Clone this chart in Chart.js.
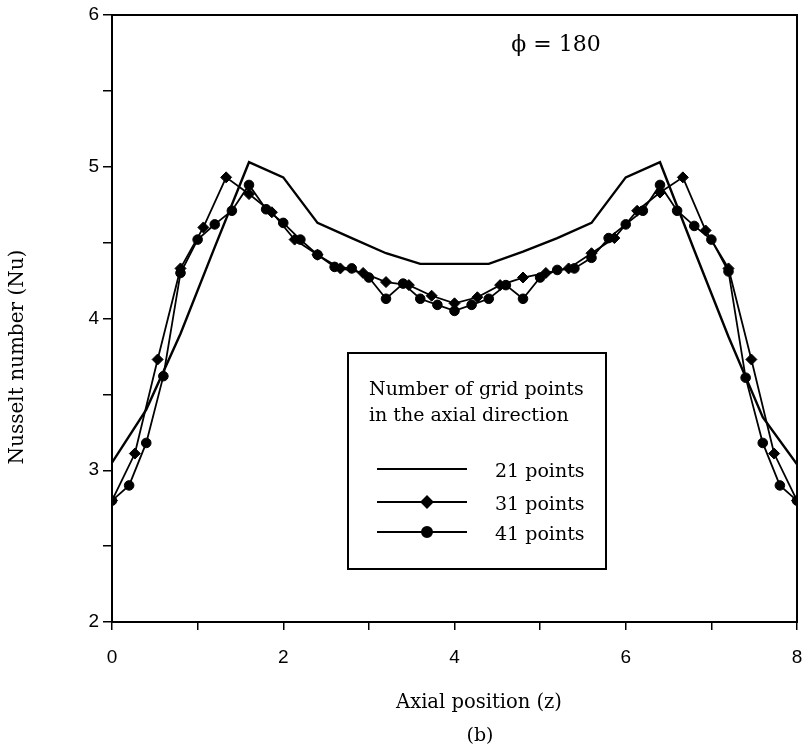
<!DOCTYPE html>
<html><head><meta charset="utf-8">
<script src="https://cdn.jsdelivr.net/npm/chart.js@4/dist/chart.umd.min.js"></script>
<style>html,body{margin:0;padding:0;background:#fff;} #wrap{width:804px;height:744px;position:relative;}</style>
</head><body><div id="wrap"><canvas id="c" width="804" height="744"></canvas></div>
<script>
// ---- data ----
const x21 = [0,0.4,0.8,1.2,1.6,2.0,2.4,2.8,3.2,3.6,4.0,4.4,4.8,5.2,5.6,6.0,6.4,6.8,7.2,7.6,8.0];
const nu21 = [3.05,3.40,3.90,4.47,5.03,4.93,4.63,4.53,4.43,4.36,4.36,4.36,4.44,4.53,4.63,4.93,5.03,4.45,3.88,3.35,3.04];

const x31 = [0,0.267,0.533,0.8,1.067,1.333,1.6,1.867,2.133,2.4,2.667,2.933,3.2,3.467,3.733,4.0,4.267,4.533,4.8,5.067,5.333,5.6,5.867,6.133,6.4,6.667,6.933,7.2,7.467,7.733,8.0];
const nu31 = [2.80,3.11,3.73,4.33,4.60,4.93,4.82,4.70,4.52,4.42,4.33,4.30,4.24,4.22,4.15,4.10,4.14,4.22,4.27,4.30,4.33,4.43,4.53,4.71,4.83,4.93,4.58,4.33,3.73,3.11,2.80];

const x41 = [0,0.2,0.4,0.6,0.8,1.0,1.2,1.4,1.6,1.8,2.0,2.2,2.4,2.6,2.8,3.0,3.2,3.4,3.6,3.8,4.0,4.2,4.4,4.6,4.8,5.0,5.2,5.4,5.6,5.8,6.0,6.2,6.4,6.6,6.8,7.0,7.2,7.4,7.6,7.8,8.0];
const nu41 = [2.80,2.90,3.18,3.62,4.30,4.52,4.62,4.71,4.88,4.72,4.63,4.52,4.42,4.34,4.33,4.27,4.13,4.23,4.13,4.09,4.05,4.09,4.13,4.22,4.13,4.27,4.32,4.33,4.40,4.53,4.62,4.71,4.88,4.71,4.61,4.52,4.31,3.61,3.18,2.90,2.80];

const seriesNames = ['21 points','31 points','41 points'];
const xTickLabels = [0,2,4,6,8];
const yTickLabels = [2,3,4,5,6];
const legendTitle = ['Number of grid points','in the axial direction'];
const xTitle = 'Axial position (z)';
const yTitle = 'Nusselt number (Nu)';
const annotation = '\u03D5 = 180';
const panelLabel = '(b)';

const pts = (xs, ys) => xs.map((x, i) => ({x: x, y: ys[i]}));

const SERIF = '"DejaVu Serif", serif';
const SANS = '"Liberation Sans", Arial, sans-serif';

const annot = {
  id: 'annot',
  beforeDatasetsDraw(chart) {
    const ctx = chart.ctx, ca = chart.chartArea;
    ctx.save();
    ctx.strokeStyle = '#000';
    ctx.lineWidth = 2;
    ctx.strokeRect(ca.left, ca.top, ca.right - ca.left, ca.bottom - ca.top);
    ctx.restore();
  },
  afterDraw(chart) {
    const ctx = chart.ctx;
    ctx.save();
    ctx.fillStyle = '#000';
    ctx.strokeStyle = '#000';
    // axis titles
    ctx.textAlign = 'center';
    ctx.textBaseline = 'middle';
    ctx.font = '19.5px ' + SERIF;
    ctx.fillText(xTitle, 479, 703);
    ctx.font = '19px ' + SERIF;
    ctx.fillText(panelLabel, 480, 736);
    ctx.save();
    ctx.font = '20px ' + SERIF;
    ctx.translate(18, 357);
    ctx.rotate(-Math.PI / 2);
    ctx.fillText(yTitle, 0, 0);
    ctx.restore();
    // phi annotation
    ctx.font = '22px ' + SERIF;
    ctx.fillText(annotation, 556, 45);

    // legend box
    const bx = 348, by = 353, bw = 258, bh = 216;
    ctx.fillStyle = '#fff';
    ctx.fillRect(bx, by, bw, bh);
    ctx.lineWidth = 2;
    ctx.strokeRect(bx, by, bw, bh);
    ctx.fillStyle = '#000';
    ctx.font = '19px ' + SERIF;
    ctx.textAlign = 'left';
    ctx.textBaseline = 'alphabetic';
    ctx.fillText(legendTitle[0], 369, 395);
    ctx.fillText(legendTitle[1], 369, 421);
    const rows = [469, 502, 532];
    const styles = [null, 'rectRot', 'circle'];
    const radii = [0, 5.5, 5];
    rows.forEach((ry, i) => {
      ctx.lineWidth = i === 0 ? 2.2 : 2;
      ctx.beginPath();
      ctx.moveTo(377, ry);
      ctx.lineTo(467, ry);
      ctx.stroke();
      if (styles[i]) {
        Chart.helpers.drawPoint(ctx, {pointStyle: styles[i], radius: radii[i], rotation: 0, borderWidth: 1}, 427, ry);
        ctx.fill();
      }
      ctx.fillText(seriesNames[i], 495, ry + 8);
    });
    ctx.restore();
  }
};

new Chart(document.getElementById('c'), {
  type: 'line',
  data: {
    datasets: [
      {label: seriesNames[0], data: pts(x21, nu21), borderColor: '#000', borderWidth: 2.4, pointRadius: 0, tension: 0, fill: false},
      {label: seriesNames[1], data: pts(x31, nu31), borderColor: '#000', backgroundColor: '#000', borderWidth: 1.8, pointStyle: 'rectRot', pointRadius: 5.5, pointBorderWidth: 1, tension: 0, fill: false},
      {label: seriesNames[2], data: pts(x41, nu41), borderColor: '#000', backgroundColor: '#000', borderWidth: 1.8, pointStyle: 'circle', pointRadius: 4.8, pointBorderWidth: 1, tension: 0, fill: false}
    ]
  },
  options: {
    responsive: false,
    animation: false,
    devicePixelRatio: 1,
    layout: {padding: {left: 0, right: 7, top: 15, bottom: 0}},
    plugins: {legend: {display: false}, title: {display: false}, tooltip: {enabled: false}},
    scales: {
      x: {
        type: 'linear', min: 0, max: 8,
        afterFit: (s) => { s.height = 122; s.paddingLeft = 0; s.paddingRight = 0; },
        ticks: {stepSize: 1, color: '#000', padding: 16, maxRotation: 0, autoSkip: false,
          font: {family: SANS, size: 19},
          callback: (v) => xTickLabels.includes(v) ? String(v) : ''},
        grid: {drawOnChartArea: false, drawTicks: true, tickLength: 8, color: '#000', lineWidth: 1.5},
        border: {display: true, color: '#000', width: 2}
      },
      y: {
        type: 'linear', min: 2, max: 6,
        afterFit: (s) => { s.width = 112; s.paddingTop = 0; s.paddingBottom = 0; },
        ticks: {stepSize: 0.5, color: '#000', padding: 4, autoSkip: false,
          font: {family: SANS, size: 19},
          callback: (v) => yTickLabels.includes(v) ? String(v) : ''},
        grid: {drawOnChartArea: false, drawTicks: true, tickLength: 9, color: '#000', lineWidth: 1.5},
        border: {display: true, color: '#000', width: 2}
      }
    }
  },
  plugins: [annot]
});
</script>
</body></html>
